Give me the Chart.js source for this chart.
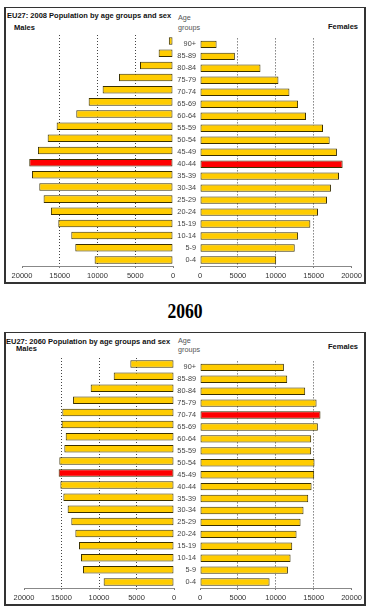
<!DOCTYPE html>
<html>
<head>
<meta charset="utf-8">
<script src="https://cdn.jsdelivr.net/npm/chart.js@4/dist/chart.umd.min.js"></script>
<style>
  html, body { margin: 0; padding: 0; background: #fff; }
  body { width: 370px; height: 609px; position: relative; overflow: hidden; font-family: "Liberation Sans", Arial, sans-serif; }
  .frame { position: absolute; box-sizing: border-box; border-style: solid; border-color: #333; border-width: 1px 2px 2px 2px; }
  .t { position: absolute; white-space: nowrap; }
  .title { font-weight: bold; font-size: 7.5px; line-height: 8px; color: #111; }
  .sex { font-weight: bold; font-size: 7.5px; line-height: 8px; color: #111; }
  .age { font-size: 7.2px; line-height: 8px; color: #555; }
  .year { left: 0; width: 370px; text-align: center; font-family: "Liberation Serif", "Times New Roman", serif; font-weight: bold; font-size: 20px; line-height: 22px; color: #000; transform: scaleX(0.88); }
  canvas { position: absolute; }
</style>
</head>
<body>
<div class="frame" style="left:4px;top:7px;width:362px;height:277px;"></div>
<div class="t title" style="left:7px;top:12px;">EU27: 2008 Population by age groups and sex</div>
<div class="t sex" style="left:14px;top:24px;">Males</div>
<div class="t age" style="left:178px;top:14px;">Age</div>
<div class="t age" style="left:178px;top:24px;">groups</div>
<div class="t sex" style="right:12px;top:23px;">Females</div>
<canvas id="m2008" width="176" height="252" style="left:4px;top:30px;"></canvas>
<canvas id="f2008" width="195" height="252" style="left:170px;top:30px;"></canvas>

<div class="t year" style="top:300px;">2060</div>

<div class="frame" style="left:4px;top:332px;width:362px;height:274px;"></div>
<div class="t title" style="left:6px;top:338px;">EU27: 2060 Population by age groups and sex</div>
<div class="t sex" style="left:16px;top:345px;">Males</div>
<div class="t age" style="left:178px;top:337px;">Age</div>
<div class="t age" style="left:178px;top:346px;">groups</div>
<div class="t sex" style="right:12px;top:343px;">Females</div>
<canvas id="m2060" width="176" height="251" style="left:4px;top:353px;"></canvas>
<canvas id="f2060" width="195" height="251" style="left:170px;top:353px;"></canvas>

<script>
// Age groups, listed top (oldest) to bottom (youngest)
const ageGroups = ['90+','85-89','80-84','75-79','70-74','65-69','60-64','55-59','50-54','45-49','40-44','35-39','30-34','25-29','20-24','15-19','10-14','5-9','0-4'];

// Population in thousands
const males2008   = [550, 1900, 4370, 7150, 9320, 11170, 12810, 15410, 16600, 17890, 19040, 18680, 17710, 17140, 16170, 15190, 13470, 12940, 10380];
const females2008 = [2190, 4600, 7980, 10350, 11800, 12940, 13990, 16230, 17110, 18070, 18820, 18340, 17280, 16760, 15570, 14560, 12940, 12500, 10050];
const males2060   = [5820, 8040, 11110, 13460, 14890, 14980, 14440, 14620, 15290, 15380, 15150, 14750, 14180, 13690, 13150, 12670, 12400, 12130, 9380];
const females2060 = [11070, 11510, 13880, 15380, 15900, 15550, 14670, 14670, 15110, 15070, 14720, 14280, 13660, 13270, 12740, 12170, 11950, 11600, 9180];

// Highlighted (largest) groups
const highlightMales2008 = '40-44';
const highlightFemales2008 = '40-44';
const highlightMales2060 = '45-49';
const highlightFemales2060 = '70-74';

// Axis ticks
const axisMin = 0;
const axisMax = 20000;
const axisStep = 5000;

const YELLOW = '#FFCC00';
const RED = '#FF0000';

function makeChart(id, values, highlight, side, pad) {
  const isMale = side === 'male';
  const colors = ageGroups.map(g => g === highlight ? RED : YELLOW);
  return new Chart(document.getElementById(id), {
    type: 'bar',
    data: {
      labels: ageGroups,
      datasets: [{
        data: values,
        backgroundColor: colors,
        borderColor: '#3a3000',
        borderWidth: 1,
        borderSkipped: false,
        categoryPercentage: 1,
        barPercentage: 0.62
      }]
    },
    options: {
      indexAxis: 'y',
      responsive: false,
      animation: false,
      devicePixelRatio: 1,
      layout: { padding: pad },
      plugins: { legend: { display: false }, tooltip: { enabled: false } },
      scales: {
        x: {
          reverse: isMale,
          min: axisMin,
          max: axisMax,
          afterFit: s => { s.height = 16; },
          ticks: {
            stepSize: axisStep,
            padding: 3,
            color: '#333',
            font: { family: '"Liberation Sans", Arial, sans-serif', size: 7.5 },
            maxRotation: 0,
            callback: v => String(v)
          },
          grid: {
            drawTicks: true,
            tickLength: 2,
            tickColor: '#777',
            lineWidth: 1,
            color: ctx => (ctx.tick && (ctx.tick.value === axisMin || ctx.tick.value === axisMax)) ? 'rgba(0,0,0,0)' : '#444'
          },
          border: { display: true, color: '#888', width: 1, dash: [1, 2] }
        },
        y: isMale ? { display: false } : {
          position: 'left',
          afterFit: s => { s.width = 30; },
          grid: { display: false, drawTicks: false },
          border: { display: false },
          ticks: {
            padding: 4,
            color: '#444',
            font: { family: '"Liberation Sans", Arial, sans-serif', size: 7.3 }
          }
        }
      }
    }
  });
}

makeChart('m2008', males2008, highlightMales2008, 'male', { left: 18, right: 7, top: 5, bottom: 0 });
makeChart('f2008', females2008, highlightFemales2008, 'female', { left: 0, right: 13, top: 5, bottom: 0 });
makeChart('m2060', males2060, highlightMales2060, 'male', { left: 20, right: 6, top: 5, bottom: 0 });
makeChart('f2060', females2060, highlightFemales2060, 'female', { left: 0, right: 13, top: 5, bottom: 0 });
</script>
</body>
</html>
